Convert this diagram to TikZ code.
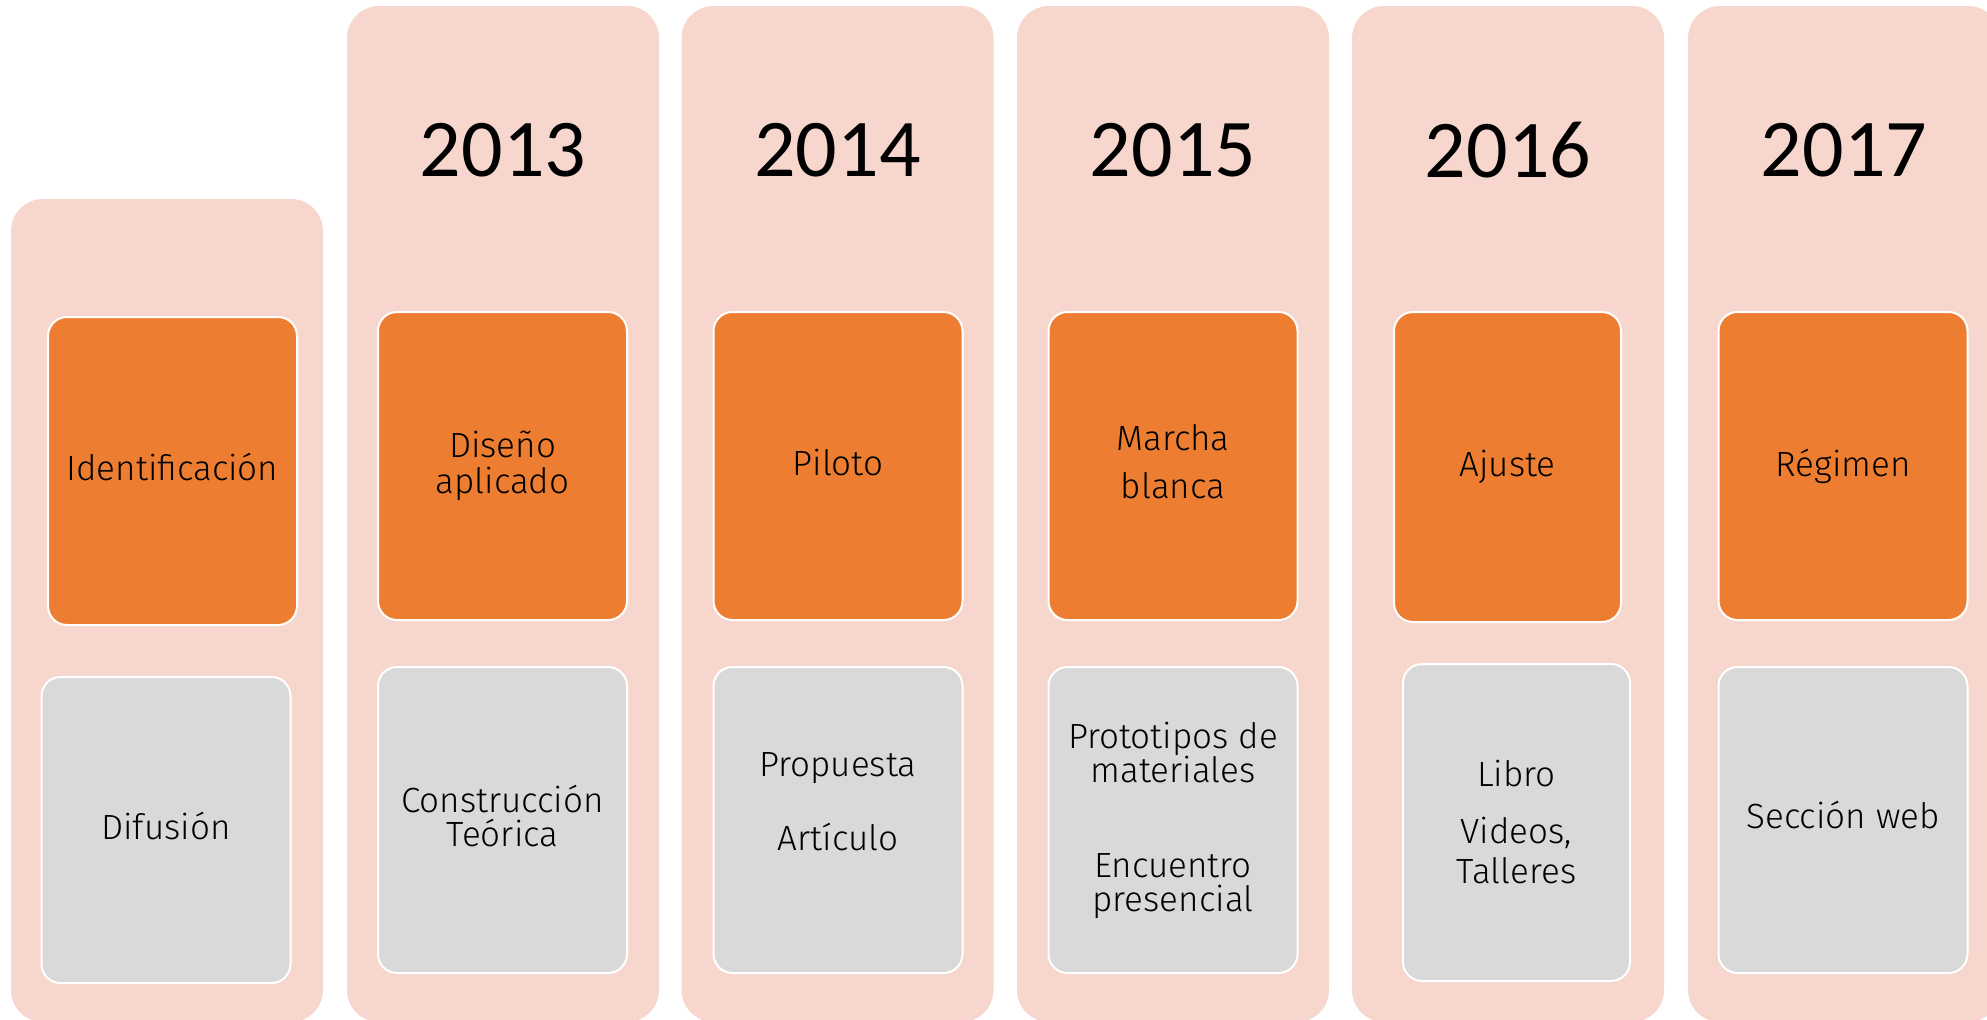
\documentclass[tikz,border=0pt]{standalone}
\usepackage{fontspec}
\setmainfont{Fira Sans}[UprightFont=* Light]
\newfontfamily\yearfont{Carlito}
\usepackage{xcolor}
\definecolor{rosa}{HTML}{F7D7CD}
\definecolor{naranja}{HTML}{ED7D31}
\definecolor{gris}{HTML}{D9D9D9}

\begin{document}
\begin{tikzpicture}[
        x=1pt, y=-1pt,
        colbox/.style={fill=rosa, rounded corners=32pt, minimum width=312pt,
            inner sep=0pt},
        fasebox/.style={fill=naranja, draw=white, line width=2pt,
            rounded corners=19pt, minimum width=249pt, minimum height=308pt,
            inner sep=0pt, align=center, font=\fontsize{35}{34}\selectfont},
        prodbox/.style={fasebox, fill=gris, minimum height=306pt},
        year/.style={font=\yearfont\fontsize{82}{82}\selectfont, inner sep=0pt},
    ]
\useasboundingbox (0,0) rectangle (1987,1020);
\clip (0,0) rectangle (1987,1020);

% columns
\node[colbox, minimum height=823pt] (colIni) at (167,610.5) {};
\node[colbox, minimum height=1016pt] (col2013) at (503,514) {};
\node[colbox, minimum height=1016pt] (col2014) at (837.5,514) {};
\node[colbox, minimum height=1016pt] (col2015) at (1173,514) {};
\node[colbox, minimum height=1016pt] (col2016) at (1508,514) {};
\node[colbox, minimum height=1016pt] (col2017) at (1844,514) {};

% years
\node[year] (y2013) at (503,150) {2013};
\node[year] (y2014) at (837.5,150) {2014};
\node[year] (y2015) at (1173,150) {2015};
\node[year] (y2016) at (1508,150) {2016};
\node[year] (y2017) at (1844,150) {2017};

% stages
\node[fasebox, text depth=8pt] (faseIni) at (172.5,471) {Identificación};
\node[fasebox] (fase2013) at (502.5,466) {Diseño\\[1.5pt]aplicado};
\node[fasebox, text depth=8pt] (fase2014) at (838,466) {Piloto};
\node[fasebox, text depth=10pt] (fase2015) at (1173,466) {Marcha\\[14pt]blanca};
\node[fasebox, minimum width=227pt, minimum height=310pt] (fase2016) at (1507.5,467) {Ajuste};
\node[fasebox] (fase2017) at (1843,466) {Régimen};

% products
\node[prodbox, text depth=9pt] (prodIni) at (166,830) {Difusión};
\node[prodbox, text depth=8pt] (prod2013) at (502.5,820) {Construcción\\Teórica};
\node[prodbox, text depth=37pt] (prod2014) at (838,820) {Propuesta\\[38pt]Artículo};
\node[prodbox] (prod2015) at (1173,820) {Prototipos de\\materiales\\[61pt]Encuentro\\presencial};
\node[prodbox, minimum width=227pt, minimum height=317pt] (prod2016) at (1516.5,822.5) {Libro\\[23pt]Videos,\\[6pt]Talleres};
\node[prodbox, text depth=10pt] (prod2017) at (1843,820) {Sección web};
\end{tikzpicture}
\end{document}
